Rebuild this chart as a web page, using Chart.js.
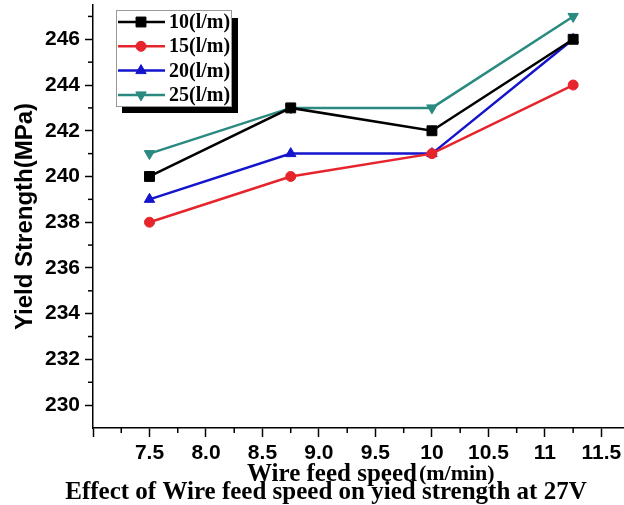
<!DOCTYPE html>
<html>
<head>
<meta charset="utf-8">
<script src="https://cdn.jsdelivr.net/npm/chart.js@4.4.0/dist/chart.umd.min.js"></script>
<style>
  html, body { margin: 0; padding: 0; background: #fff; }
  #wrap { position: relative; width: 624px; height: 505px; }
</style>
</head>
<body>
<div id="wrap"><canvas id="yieldChart"></canvas></div>
<script>
const feedSpeeds = [7.5, 8.75, 10, 11.25];
const seriesNames = ["10(l/m)", "15(l/m)", "20(l/m)", "25(l/m)"];
const flow10 = [240, 243, 242, 246];
const flow15 = [238, 240, 241, 244];
const flow20 = [239, 241, 241, 246];
const flow25 = [241, 243, 243, 247];

const xTickValues = [7.0, 7.5, 8.0, 8.5, 9.0, 9.5, 10, 10.5, 11, 11.5];
const xTickLabels = ["", "7.5", "8.0", "8.5", "9.0", "9.5", "10", "10.5", "11", "11.5"];
const xMinorTicks = [7.25, 7.75, 8.25, 8.75, 9.25, 9.75, 10.25, 10.75, 11.25];
const yTickValues = [230, 232, 234, 236, 238, 240, 242, 244, 246];
const yMinorTicks = [231, 233, 235, 237, 239, 241, 243, 245, 247];

const xTitle = "Wire feed speed";
const xUnit = "(m/min)";
const caption = "Effect of Wire feed speed on yied strength at 27V";

function toPoints(vals) {
  return feedSpeeds.map((x, i) => ({ x: x, y: vals[i] }));
}

function makeSeries(label, vals, color, style, radius, rot) {
  return {
    label: label,
    data: toPoints(vals),
    borderColor: color,
    backgroundColor: color,
    borderWidth: 2.5,
    pointStyle: style,
    pointRadius: radius,
    pointRotation: rot,
    pointBorderWidth: 1,
    pointBorderColor: color,
    pointBackgroundColor: color,
    tension: 0,
    clip: false
  };
}

const datasets = [
  makeSeries(seriesNames[0], flow10, "#000000", "rect", 7, 0),
  makeSeries(seriesNames[1], flow15, "#e6242c", "circle", 5, 0),
  makeSeries(seriesNames[2], flow20, "#1414cc", "triangle", 6, 0),
  makeSeries(seriesNames[3], flow25, "#2a8a80", "triangle", 6, 180)
];

// minor ticks, legend box and bottom texts
const extras = {
  id: "extras",
  afterDraw(chart) {
    const c = chart.ctx;
    const xs = chart.scales.x;
    const ys = chart.scales.y;
    c.save();
    c.strokeStyle = "#000";
    c.lineWidth = 1.5;
    xMinorTicks.forEach(v => {
      const px = xs.getPixelForValue(v);
      c.beginPath(); c.moveTo(px, xs.top); c.lineTo(px, xs.top + 5); c.stroke();
    });
    yMinorTicks.forEach(v => {
      const py = ys.getPixelForValue(v);
      c.beginPath(); c.moveTo(ys.right, py); c.lineTo(ys.right - 5, py); c.stroke();
    });

    // legend
    c.fillStyle = "#000";
    c.fillRect(122, 18, 116, 95);
    c.fillStyle = "#fff";
    c.fillRect(116, 10, 116, 97);
    c.strokeStyle = "#999";
    c.lineWidth = 1;
    c.strokeRect(116.5, 10.5, 115, 96);
    chart.data.datasets.forEach((ds, i) => {
      const y = 22 + i * 24.3;
      c.strokeStyle = ds.borderColor;
      c.lineWidth = 2.5;
      c.beginPath(); c.moveTo(118, y); c.lineTo(165, y); c.stroke();
      c.fillStyle = ds.backgroundColor;
      c.lineWidth = 1;
      Chart.helpers.drawPoint(c, {
        pointStyle: ds.pointStyle,
        rotation: ds.pointRotation,
        radius: ds.pointRadius,
        borderWidth: 1
      }, 141, y);
      c.fillStyle = "#000";
      c.font = "bold 20px 'Liberation Serif'";
      c.textAlign = "left";
      c.textBaseline = "middle";
      c.fillText(ds.label, 169, y + 1);
    });

    // x title and caption
    c.fillStyle = "#000";
    c.textBaseline = "alphabetic";
    c.textAlign = "left";
    c.font = "bold 25px 'Liberation Serif'";
    c.fillText(xTitle, 247, 481);
    const w = c.measureText(xTitle).width;
    c.font = "bold 22px 'Liberation Serif'";
    c.fillText(xUnit, 247 + w + 2, 480);
    c.font = "bold 25px 'Liberation Serif'";
    c.textAlign = "center";
    c.fillText(caption, 326, 499);
    c.restore();
  }
};

const ctx = document.getElementById("yieldChart").getContext("2d");

new Chart(ctx, {
  type: "line",
  data: { datasets: datasets },
  options: {
    responsive: true,
    maintainAspectRatio: false,
    animation: false,
    layout: { autoPadding: false, padding: { top: 5, right: 0, left: 0, bottom: 0 } },
    plugins: {
      legend: { display: false },
      tooltip: { enabled: false }
    },
    scales: {
      x: {
        type: "linear",
        min: 7.0,
        max: 11.7,
        afterBuildTicks: s => { s.ticks = xTickValues.map(v => ({ value: v })); },
        afterFit: s => { s.height = 77; s.paddingLeft = 0; s.paddingRight = 0; },
        border: { color: "#000", width: 1.5 },
        grid: { drawOnChartArea: false, tickLength: 9, tickColor: "#000", tickWidth: 1.5 },
        ticks: {
          color: "#000",
          padding: 4,
          maxRotation: 0,
          autoSkip: false,
          font: { family: "'Liberation Sans', Arial", size: 21, weight: "bold" },
          callback: (v, i) => xTickLabels[xTickValues.indexOf(v)]
        }
      },
      y: {
        min: 229,
        max: 247.5,
        afterBuildTicks: s => { s.ticks = yTickValues.map(v => ({ value: v })); },
        afterFit: s => { s.width = 93; s.paddingTop = 0; s.paddingBottom = 0; },
        border: { color: "#000", width: 1.5 },
        grid: { drawOnChartArea: false, tickLength: 8, tickColor: "#000", tickWidth: 1.5 },
        ticks: {
          color: "#000",
          padding: 5,
          font: { family: "'Liberation Sans', Arial", size: 21, weight: "bold" }
        },
        title: {
          display: true,
          text: "Yield Strength(MPa)",
          color: "#000",
          padding: { top: 11, bottom: 0 },
          font: { family: "'Liberation Sans', Arial", size: 24, weight: "bold" }
        }
      }
    }
  },
  plugins: [extras]
});
</script>
</body>
</html>
